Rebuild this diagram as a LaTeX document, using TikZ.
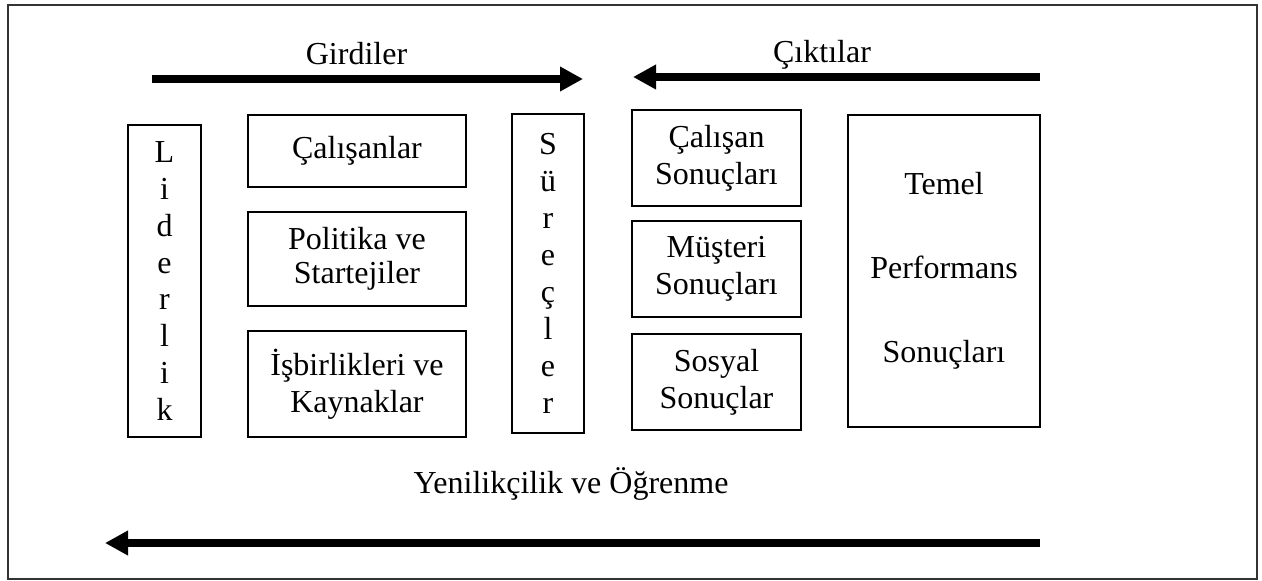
\documentclass[tikz,border=0pt]{standalone}
\usepackage{fontspec}
\setmainfont{Liberation Serif}
\usetikzlibrary{arrows.meta}
\begin{document}
\begin{tikzpicture}[x=0.75pt,y=-0.75pt,
  box/.style={draw, line width=1.3pt, inner sep=0pt, align=center,
    font=\fontsize{24}{27.75}\selectfont},
  vbox/.style={box, font=\fontsize{24}{27.6}\selectfont},
  tbox/.style={box, font=\fontsize{24}{63}\selectfont},
  lbl/.style={anchor=base, inner sep=0pt, font=\fontsize{24}{27.75}\selectfont},
  bigarrow/.style={line width=5.3pt, -{Triangle[length=17.25pt,width=17.5pt]}},
  frame/.style={draw=black!80, line width=1.1pt}]
\useasboundingbox (0,0) rectangle (1262,581);
\draw[frame] (8,5) rectangle (1257,579);

% boxes
\node[vbox, minimum width=54.75pt, minimum height=234pt] (lid) at (164.5,281) {L\\i\\d\\e\\r\\l\\i\\k};
\node[box, minimum width=163.5pt, minimum height=54pt] (cal) at (357,151) {Çalışanlar};
\node[box, minimum width=163.5pt, minimum height=70.5pt, font=\fontsize{24}{25.5}\selectfont] (pol) at (357,259) {Politika ve\\Startejiler};
\node[box, minimum width=163.5pt, minimum height=79.5pt] (isb) at (357,384) {İşbirlikleri ve\\Kaynaklar};
\node[vbox, minimum width=54pt, minimum height=239.25pt, font=\fontsize{24}{27.75}\selectfont] (sur) at (548,273.5) {S\\ü\\r\\e\\ç\\l\\e\\r};
\node[box, minimum width=126.75pt, minimum height=72pt] (cs) at (716.5,158) {Çalışan\\Sonuçları};
\node[box, minimum width=126.75pt, minimum height=72pt] (ms) at (716.5,269) {Müşteri\\Sonuçları};
\node[box, minimum width=126.75pt, minimum height=72pt] (ss) at (716.5,382) {Sosyal\\Sonuçlar};
\node[tbox, minimum width=144pt, minimum height=234pt] (tp) at (944,271) {Temel\\Performans\\Sonuçları};

% labels
\node[lbl] (girdi) at (356.5,65) {Girdiler};
\node[lbl] (cikti) at (822,63) {Çıktılar};
\node[lbl] (yeni) at (571,493) {Yenilikçilik ve Öğrenme};

% arrows
\coordinate (g1) at (152,79);
\coordinate (g2) at (583,79);
\coordinate (c1) at (1040,77);
\coordinate (c2) at (633,77);
\coordinate (y1) at (1040,543);
\coordinate (y2) at (105,543);
\draw[bigarrow] (g1) -- (g2);
\draw[bigarrow] (c1) -- (c2);
\draw[bigarrow] (y1) -- (y2);
\end{tikzpicture}
\end{document}
